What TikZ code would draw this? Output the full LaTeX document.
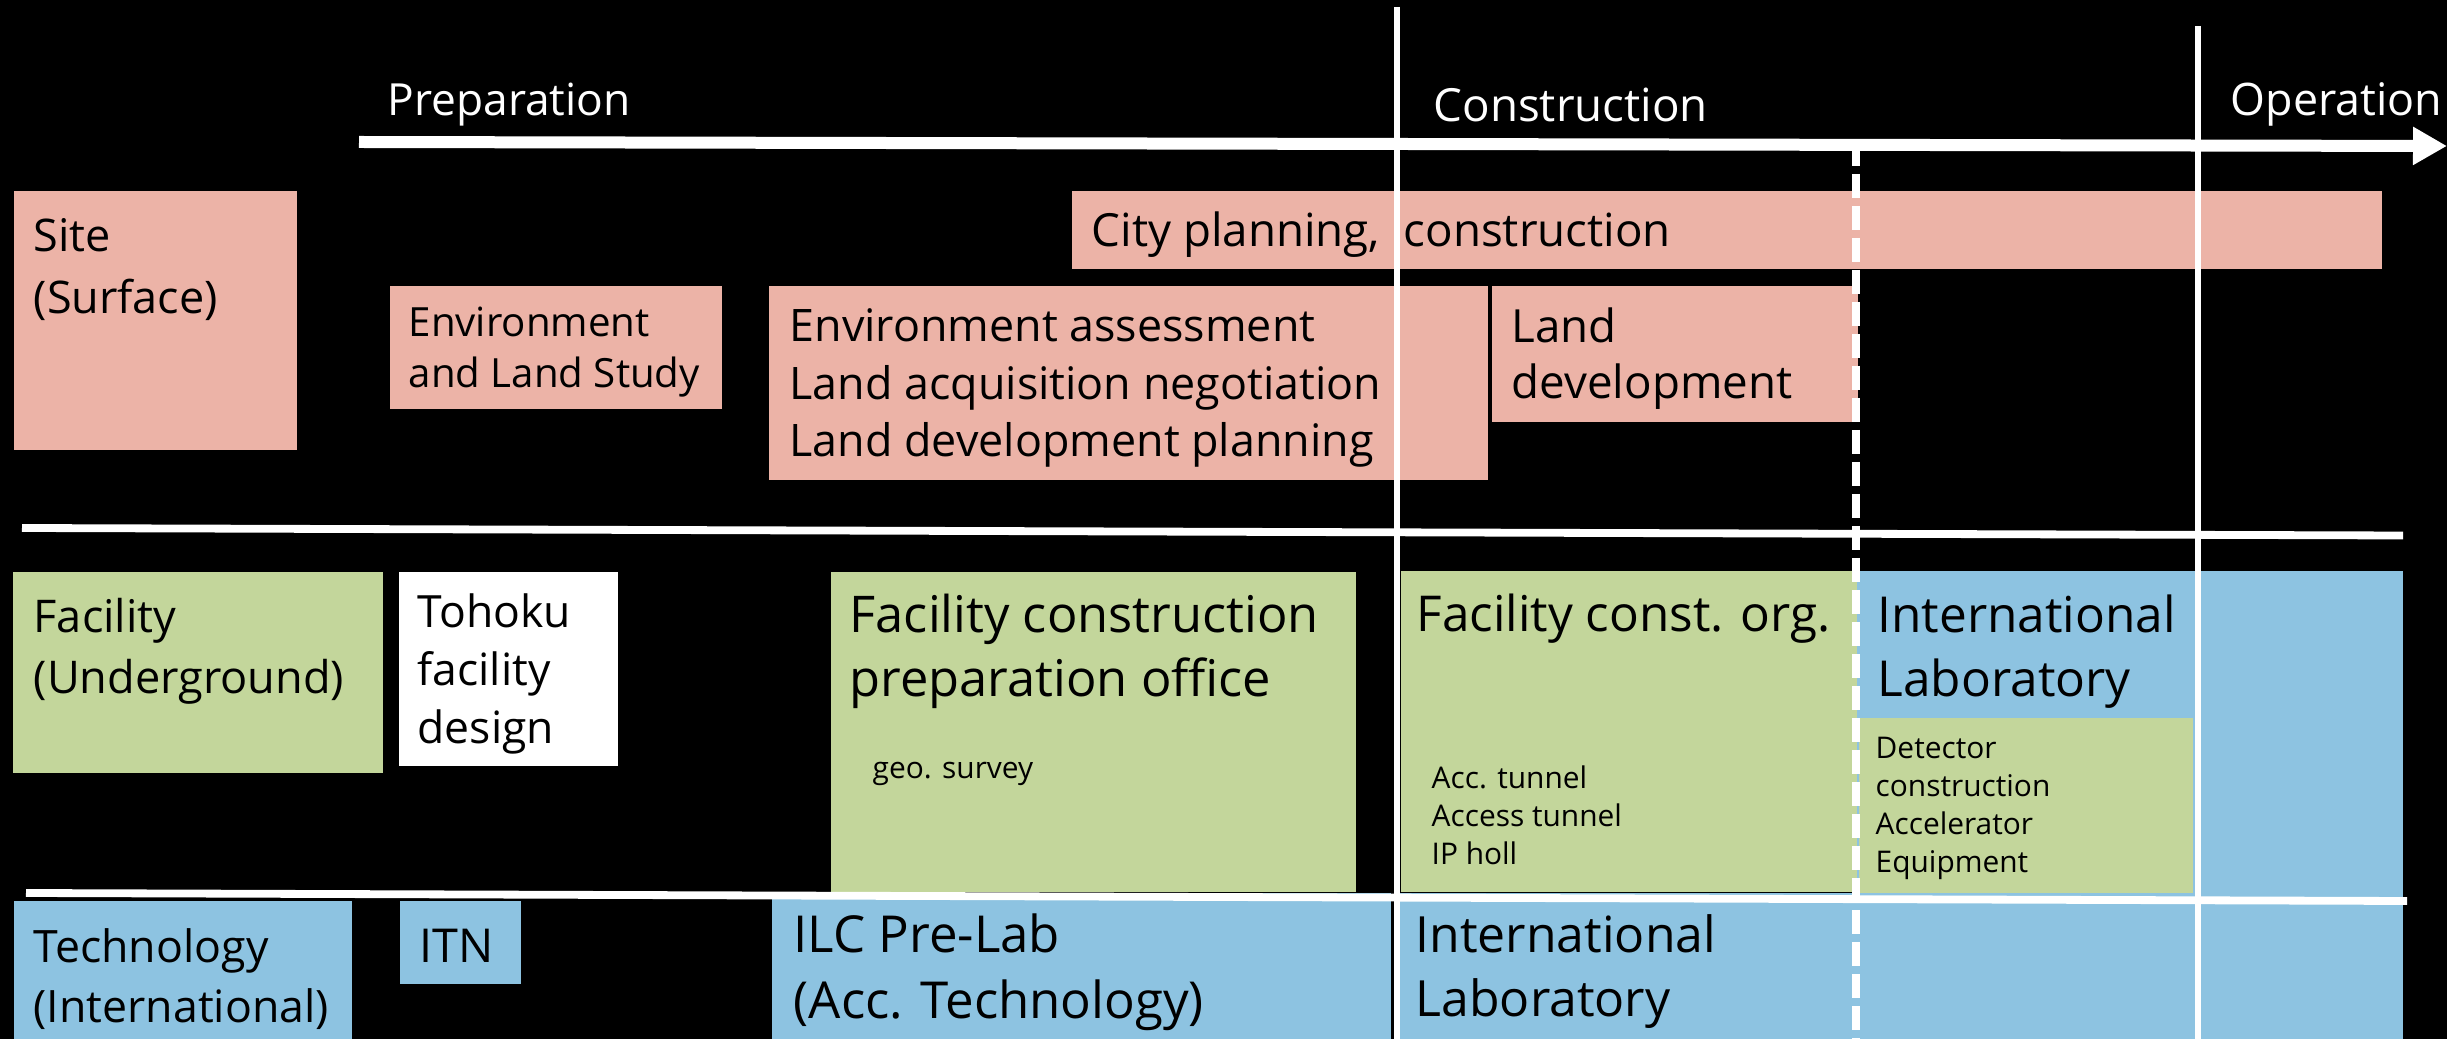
\documentclass[tikz,border=0pt]{standalone}
\usepackage{fontspec}
\setmainfont{Open Sans}
\usetikzlibrary{arrows.meta}
\definecolor{sitepink}{HTML}{ECB3A7}
\definecolor{facgreen}{HTML}{C3D69B}
\definecolor{techblue}{HTML}{8DC3E1}
\newcommand{\stackl}[1]{\begin{tabular}[t]{@{}l@{}}#1\end{tabular}}
\begin{document}
\begin{tikzpicture}[x=0.1mm,y=-0.1mm,
  txt/.style={anchor=base west, inner sep=0pt, text=black},
  phase/.style={anchor=base west, inner sep=0pt, text=white},
  grid/.style={white, line width=0.6mm},
  rule/.style={white, line width=0.78mm}]
\useasboundingbox (0,0) rectangle (2447,1039);
\fill[black] (0,0) rectangle (2447,1039);

% site (surface) row
\fill[sitepink] (14,191) rectangle (297,450);
\fill[sitepink] (390,286) rectangle (722,409);
\fill[sitepink] (1072,191) rectangle (2382,269);
\fill[sitepink] (769,286) rectangle (1488,480);
\fill[sitepink] (1492,286) rectangle (1858,422);

% facility (underground) row
\fill[facgreen] (13,572) rectangle (383,773);
\fill[white] (399,572) rectangle (618,766);
\fill[facgreen] (831,572) rectangle (1356,892);
\fill[techblue] (1857,571) rectangle (2403,1039);
\fill[facgreen] (1401,571) rectangle (1857,892);
\fill[facgreen] (1859,718) rectangle (2193,893);

% technology (international) row
\fill[techblue] (14,901) rectangle (352,1039);
\fill[techblue] (400,901) rectangle (521,984);
\fill[techblue] (772,893) rectangle (1391,1039);
\fill[techblue] (1400,893) rectangle (2403,1039);

% time axis and phase boundaries
\draw[white, line width=1.2mm, -{Triangle[length=3.4mm,width=3.6mm]}] (359,142) -- (2447,146);
\draw[grid] (1397,7) -- (1397,1039);
\draw[grid] (2198,26) -- (2198,1039);
\draw[white, line width=0.75mm, dash pattern=on 2.4mm off 0.8mm] (1856,142) -- (1856,1039);
\draw[rule] (22,528) -- (2403,535.5);
\draw[rule] (26,893) -- (2407,901);

% phase labels
\node[phase, font=\fontsize{12.6}{15}\selectfont] (prep) at (387,116) {Preparation};
\node[phase, font=\fontsize{13.0}{15}\selectfont] (constr) at (1433,122) {Construction};
\node[phase, font=\fontsize{12.75}{15}\selectfont] (oper) at (2230,116) {Operation};

% site texts
\node[txt, font=\fontsize{12.8}{17.4}\selectfont] (site) at (33,252) {\stackl{Site\\(Surface)}};
\node[txt, font=\fontsize{11.45}{14.5}\selectfont] (envland) at (408,337) {\stackl{Environment\\and Land Study}};
\node[txt, font=\fontsize{13.0}{15}\selectfont] (city) at (1091,247) {City planning,\ \ construction};
\node[txt, font=\fontsize{12.75}{16.36}\selectfont] (envassess) at (789,342) {\stackl{Environment assessment\\Land acquisition negotiation\\Land development planning}};
\node[txt, font=\fontsize{13.0}{15.9}\selectfont] (landdev) at (1511,343) {\stackl{Land\\development}};

% facility texts
\node[txt, font=\fontsize{12.83}{17.1}\selectfont] (facility) at (33,633) {\stackl{Facility\\(Underground)}};
\node[txt, font=\fontsize{12.65}{16.4}\selectfont] (tohoku) at (417,628) {\stackl{Tohoku\\facility\\design}};
\node[txt, font=\fontsize{14.4}{18.2}\selectfont] (facprep) at (849,633) {\stackl{Facility construction\\preparation office}};
\node[txt, font=\fontsize{8.5}{10.8}\selectfont] (geo) at (872,779) {geo. survey};
\node[txt, font=\fontsize{14.06}{18.2}\selectfont] (facorg) at (1416,632) {Facility const. org.};
\node[txt, font=\fontsize{8.5}{10.8}\selectfont] (tunnels) at (1431,789) {\stackl{Acc. tunnel\\Access tunnel\\IP holl}};
\node[txt, font=\fontsize{14.1}{18.2}\selectfont] (intlabup) at (1877,633) {\stackl{International\\Laboratory}};
\node[txt, font=\fontsize{8.5}{10.8}\selectfont] (detector) at (1875,759) {\stackl{Detector\\construction\\Accelerator\\Equipment}};

% technology texts
\node[txt, font=\fontsize{12.7}{16.8}\selectfont] (tech) at (33,963) {\stackl{Technology\\(International)}};
\node[txt, font=\fontsize{13.3}{15}\selectfont] (itn) at (419,963) {ITN};
\node[txt, font=\fontsize{14.5}{18.5}\selectfont] (ilc) at (793,953) {\stackl{ILC Pre-Lab\\(Acc. Technology)}};
\node[txt, font=\fontsize{14.2}{18.2}\selectfont] (intlablow) at (1415,953) {\stackl{International\\Laboratory}};
\end{tikzpicture}
\end{document}
